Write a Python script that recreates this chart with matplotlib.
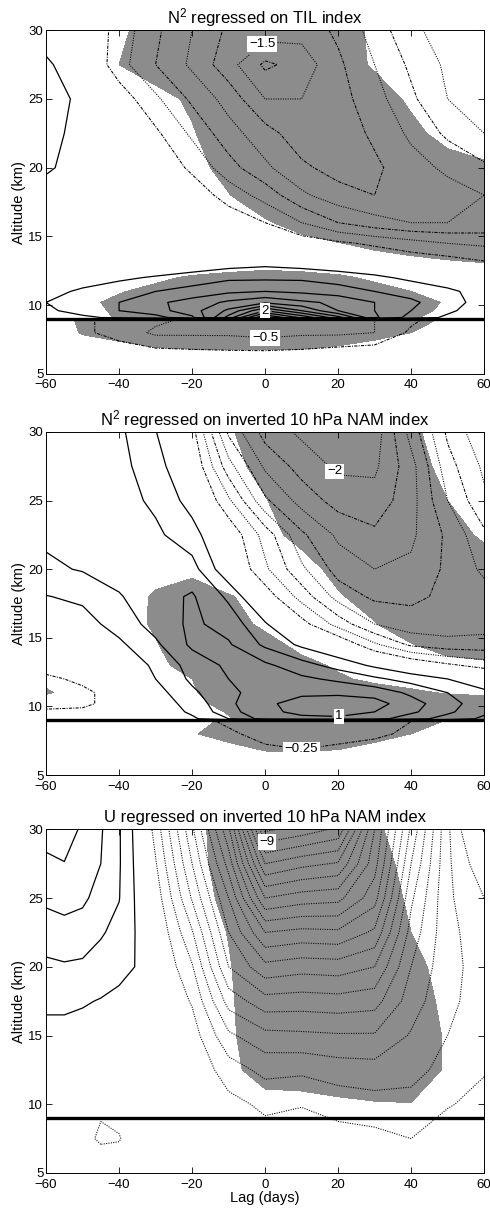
import matplotlib
matplotlib.use("Agg")
import matplotlib.pyplot as plt
import numpy as np

plt.rcParams['font.family'] = ['Liberation Sans', 'DejaVu Sans']
plt.rcParams['mathtext.default'] = 'regular'

# Lag (days) / altitude (km) grid of the two N^2 maps
LAGS = [-60, -50, -40, -30, -20, -10, 0, 10, 20, 30, 40, 50, 60]
ALTS = [5, 6.5, 8, 8.9, 9.1, 9.6, 10.2, 11, 12, 13, 14.5, 16, 18, 20, 22.5, 25, 27.5, 30]

# N^2 regressed on TIL index (one row per altitude, bottom to top)
N2_TIL = [
    [0, 0, -0.02, -0.03, -0.05, -0.05, -0.05, -0.05, -0.05, -0.03, -0.02, 0, 0],
    [0, -0.05, -0.1, -0.15, -0.18, -0.2, -0.2, -0.18, -0.12, -0.08, -0.05, 0, 0],
    [-0.05, -0.2, -0.35, -0.55, -0.55, -0.55, -0.6, -0.55, -0.55, -0.5, -0.2, -0.1, -0.05],
    [-0.05, -0.2, -0.35, -0.45, -0.55, -0.65, -0.7, -0.65, -0.6, -0.5, -0.3, -0.1, -0.05],
    [0.1, 0.2, 0.3, 0.4, 0.7, 1.6, 2.8, 2.2, 1.6, 0.8, 0.4, 0.2, 0.05],
    [0.2, 0.35, 0.5, 0.65, 0.9, 1.3, 2.0, 1.5, 1.0, 0.75, 0.5, 0.3, 0.1],
    [0.25, 0.4, 0.5, 0.7, 0.85, 1.05, 1.2, 1.05, 0.95, 0.75, 0.55, 0.35, 0.15],
    [0.15, 0.3, 0.4, 0.5, 0.6, 0.7, 0.75, 0.7, 0.62, 0.5, 0.4, 0.3, 0.15],
    [0.05, 0.1, 0.2, 0.28, 0.35, 0.45, 0.45, 0.45, 0.38, 0.3, 0.2, 0.1, 0.0],
    [0, 0, 0, 0.02, 0.1, 0.15, 0.2, 0.15, 0.1, 0.05, -0.05, -0.1, -0.2],
    [0, 0, 0, 0, 0, 0, 0, -0.1, -0.2, -0.3, -0.4, -0.5, -0.55],
    [0, 0, 0, 0, 0, -0.1, -0.25, -0.5, -0.75, -0.9, -1.0, -1.0, -0.95],
    [0.1, 0, 0, 0, -0.1, -0.35, -0.6, -0.95, -1.15, -1.25, -1.2, -1.1, -1.0],
    [0.3, 0.1, 0, -0.05, -0.3, -0.65, -0.95, -1.2, -1.35, -1.3, -1.1, -0.95, -0.8],
    [0.3, 0.2, 0, -0.2, -0.55, -0.9, -1.15, -1.4, -1.4, -1.2, -0.95, -0.7, -0.5],
    [0.35, 0.2, -0.1, -0.45, -0.8, -1.1, -1.5, -1.5, -1.35, -1.1, -0.8, -0.5, -0.35],
    [0.3, 0.05, -0.4, -0.75, -1.05, -1.4, -1.8, -1.65, -1.3, -1.0, -0.7, -0.45, -0.3],
    [0.1, 0.0, -0.35, -0.7, -1.0, -1.3, -1.35, -1.4, -1.2, -0.9, -0.55, -0.4, -0.25],
]
# significance of the TIL regression (shaded where > 1)
SIG_TIL = [
    [0, 0, 0, 0, 0, 0, 0, 0, 0, 0, 0, 0, 0],
    [0, 0.1, 0.3, 0.6, 0.75, 0.8, 0.8, 0.75, 0.55, 0.3, 0.1, 0, 0],
    [0.2, 1.1, 1.5, 2, 2, 2, 2, 2, 1.8, 1.4, 1.0, 0.6, 0.3],
    [0.3, 1.2, 1.6, 2, 2, 2, 2, 2, 2, 1.6, 1.2, 0.9, 0.6],
    [0, 0.5, 1.1, 1.5, 2, 2, 2, 2, 2, 1.5, 1.1, 0.7, 0.2],
    [0, 0.6, 1.2, 1.7, 2, 2, 2, 2, 2, 1.7, 1.3, 0.8, 0.2],
    [0, 0.7, 1.3, 1.8, 2, 2, 2, 2, 2, 1.8, 1.4, 0.9, 0.3],
    [0, 0.4, 0.9, 1.4, 1.8, 2, 2, 2, 1.8, 1.4, 1.0, 0.5, 0.1],
    [0, 0, 0.3, 0.7, 1.2, 1.6, 1.8, 1.6, 1.2, 0.8, 0.4, 0, 0],
    [0, 0, 0, 0, 0, 0, 0.3, 0.2, 0.3, 0.4, 0.6, 0.8, 0.95],
    [0, 0, 0, 0, 0, 0, 0.2, 0.6, 0.95, 1.3, 1.6, 1.8, 1.8],
    [0, 0, 0, 0, 0, 0.4, 0.85, 1.5, 2, 2, 2, 2, 2],
    [0, 0, 0, 0, 0.2, 0.95, 1.8, 2, 2, 2, 2, 2, 2],
    [0, 0, 0, 0, 0.6, 1.4, 2, 2, 2, 2, 2, 1.5, 1.2],
    [0, 0, 0, 0.3, 0.9, 1.8, 2, 2, 2, 2, 1.3, 0.6, 0.3],
    [0, 0, 0, 0.6, 1.2, 2, 2, 2, 2, 1.6, 0.8, 0.2, 0],
    [0, 0, 1.0, 1.6, 2, 2, 2, 2, 1.6, 0.85, 0.3, 0, 0],
    [0, 0, 0.8, 1.5, 2, 2, 2, 2, 1.5, 0.8, 0.3, 0, 0],
]

# N^2 regressed on inverted 10 hPa NAM index
N2_NAM = [
    [0, 0, 0, 0, 0, 0, 0, 0, 0, 0, 0, 0, 0],
    [0, 0, 0, 0, 0, -0.05, -0.15, -0.2, -0.15, -0.1, -0.05, 0, 0],
    [0, 0, -0.05, -0.05, -0.1, -0.2, -0.35, -0.4, -0.35, -0.3, -0.2, -0.05, 0],
    [0, -0.05, -0.05, -0.1, -0.15, -0.3, -0.4, -0.4, -0.35, -0.3, -0.25, -0.1, 0],
    [-0.1, -0.1, -0.05, 0.05, 0.2, 0.5, 0.85, 0.95, 0.95, 0.85, 0.6, 0.4, 0.2],
    [-0.2, -0.2, -0.1, 0.05, 0.3, 0.65, 0.95, 1.05, 1.1, 1.0, 0.8, 0.55, 0.3],
    [-0.35, -0.3, -0.15, 0.1, 0.35, 0.7, 0.95, 1.1, 1.15, 1.1, 0.85, 0.6, 0.35],
    [-0.3, -0.3, -0.15, 0.15, 0.45, 0.7, 0.85, 0.95, 0.95, 0.9, 0.7, 0.5, 0.3],
    [-0.3, -0.2, -0.05, 0.25, 0.55, 0.75, 0.85, 0.8, 0.7, 0.55, 0.4, 0.25, 0.1],
    [-0.15, -0.05, 0.05, 0.3, 0.6, 0.8, 0.8, 0.6, 0.4, 0.2, 0.0, -0.2, -0.35],
    [-0.05, 0.05, 0.2, 0.45, 0.8, 0.78, 0.45, 0.2, 0.0, -0.45, -0.8, -0.9, -0.9],
    [0.05, 0.15, 0.35, 0.6, 0.8, 0.65, 0.28, -0.15, -0.6, -1.0, -1.15, -1.15, -1.1],
    [0.24, 0.3, 0.48, 0.65, 0.78, 0.45, -0.1, -0.6, -1.1, -1.3, -1.3, -1.2, -1.1],
    [0.45, 0.52, 0.6, 0.7, 0.6, 0.05, -0.45, -0.95, -1.35, -1.5, -1.45, -1.2, -0.95],
    [0.55, 0.6, 0.62, 0.55, 0.35, -0.05, -0.6, -1.2, -1.55, -1.7, -1.55, -1.2, -0.8],
    [0.6, 0.7, 0.6, 0.45, 0.15, -0.45, -1.2, -1.6, -1.85, -1.9, -1.6, -1.0, -0.55],
    [0.65, 0.62, 0.58, 0.35, 0.0, -0.9, -1.55, -1.85, -2.05, -2.05, -1.6, -0.85, -0.45],
    [0.65, 0.62, 0.55, 0.26, -0.15, -1.3, -1.85, -2.05, -2.2, -2.15, -1.4, -0.7, -0.3],
]
SIG_NAM = [
    [0, 0, 0, 0, 0, 0, 0, 0, 0, 0, 0, 0, 0],
    [0, 0, 0, 0, 0, 0.3, 0.8, 0.85, 0.7, 0.3, 0, 0, 0],
    [0, 0, 0, 0, 0.9, 1.5, 2, 2, 2, 1.5, 1.0, 0.4, 0],
    [0, 0, 0, 0, 0.5, 1.3, 2, 2, 2, 2, 1.6, 0.9, 0.4],
    [0, 0, 0, 0, 0.2, 0.9, 2, 2, 2, 2, 2, 1.6, 1.2],
    [0, 0, 0, 0, 0.3, 1.1, 2, 2, 2, 2, 2, 1.8, 1.4],
    [0.5, 0.2, 0, 0, 0.5, 1.6, 2, 2, 2, 2, 2, 1.8, 1.5],
    [1.1, 0.6, 0, 0.1, 0.8, 2, 2, 2, 2, 1.6, 1.2, 0.9, 0.8],
    [0.8, 0.4, 0, 0.3, 1.0, 2, 2, 2, 1.2, 0.7, 0.5, 0.4, 0.3],
    [0, 0, 0.1, 0.6, 1.6, 2, 2, 1.4, 0.8, 0.5, 0.4, 0.6, 0.8],
    [0, 0, 0.2, 0.9, 2, 2, 1.5, 0.6, 0.4, 0.6, 0.95, 1.5, 1.6],
    [0, 0, 0.3, 1.2, 2, 1.6, 0.7, 0.4, 0.6, 0.95, 1.6, 2, 2],
    [0, 0, 0.2, 1.2, 2, 1.1, 0.5, 0.3, 0.9, 1.4, 2, 2, 2],
    [0, 0, 0, 0.4, 0.5, 0, 0, 0.6, 1.3, 2, 2, 2, 1.6],
    [0, 0, 0, 0, 0, 0.2, 0.7, 1.3, 2, 2, 2, 1.5, 0.8],
    [0, 0, 0, 0, 0, 0.4, 0.95, 1.6, 2, 2, 1.6, 1.0, 0.5],
    [0, 0, 0, 0, 0.2, 0.7, 1.3, 2, 2, 2, 1.4, 0.7, 0.3],
    [0, 0, 0, 0, 0.3, 0.9, 1.5, 2, 2, 2, 1.2, 0.5, 0.2],
]

# U regressed on inverted 10 hPa NAM index (coarser altitude grid)
U_LAGS = [-60, -55, -50, -45, -40, -35, -30, -20, -10, 0, 10, 20, 30, 40, 50, 60]
U_ALTS = [5, 7.5, 10, 12.5, 15, 17.5, 20, 22.5, 25, 27.5, 30]
# one list per lag, bottom to top
U_NAM_BY_LAG = [
    [0, 0.05, 0.1, 0.2, 0.35, 0.6, 0.9, 1.25, 1.6, 1.85, 2.3],
    [0, 0.05, 0.1, 0.2, 0.35, 0.6, 0.95, 1.3, 1.7, 1.98, 2.3],
    [0, -0.3, 0.0, 0.15, 0.3, 0.55, 0.92, 1.25, 1.6, 1.8, 1.9],
    [0, -0.6, -0.4, 0.1, 0.25, 0.47, 0.8, 1.05, 1.3, 1.5, 1.55],
    [0, -0.55, -0.2, 0.05, 0.2, 0.4, 0.62, 0.85, 1.02, 1.05, 1.05],
    [0, -0.05, -0.05, 0.05, 0.15, 0.3, 0.48, 0.45, 0.4, 0.35, 0.3],
    [0, 0, 0, 0, 0.05, 0.1, 0.1, 0.0, -0.2, -0.45, -0.7],
    [0, -0.05, -0.05, -0.1, -0.25, -0.55, -0.95, -1.45, -2.05, -2.5, -2.9],
    [0, -0.1, -0.35, -0.75, -1.4, -2.2, -3.0, -3.5, -4.0, -4.7, -5.4],
    [-0.1, -0.3, -0.6, -1.15, -1.85, -2.8, -3.85, -5.0, -6.5, -8.0, -9.6],
    [-0.15, -0.3, -0.52, -1.1, -1.9, -2.75, -3.7, -4.85, -6.25, -7.65, -9.3],
    [-0.15, -0.3, -0.7, -1.25, -1.95, -2.8, -3.75, -4.9, -6.15, -7.45, -8.9],
    [-0.15, -0.35, -0.8, -1.3, -1.95, -2.7, -3.5, -4.4, -5.2, -5.7, -6.0],
    [-0.2, -0.5, -0.8, -1.2, -1.45, -1.75, -2.0, -2.3, -2.6, -3.0, -3.4],
    [0, -0.15, -0.55, -0.8, -1.0, -1.1, -1.15, -1.15, -1.1, -1.1, -1.1],
    [0, -0.1, -0.3, -0.55, -0.7, -0.8, -0.8, -0.7, -0.5, -0.1, 0.55],
]
# significance of U regression, one row per altitude
SIG_U = [
    [0] * 16,
    [0] * 16,
    [0, 0, 0, 0, 0, 0, 0, 0, 0, 0.6, 0.5, 0.75, 0.9, 0.95, 0.3, 0],
    [0, 0, 0, 0, 0, 0, 0, 0, 0.7, 1.5, 1.8, 1.9, 2, 2, 0.8, 0],
    [0, 0, 0, 0, 0, 0, 0, 0, 0.75, 1.9, 2, 2, 2, 2, 0.8, 0],
    [0, 0, 0, 0, 0, 0, 0, 0, 0.8, 2, 2, 2, 2, 2, 0.5, 0],
    [0, 0, 0, 0, 0, 0, 0, 0.1, 0.9, 2, 2, 2, 2, 1.4, 0.5, 0],
    [0, 0, 0, 0, 0, 0, 0, 0.2, 1.05, 2, 2, 2, 2, 1.0, 0.3, 0],
    [0, 0, 0, 0, 0, 0, 0, 0.3, 1.4, 2, 2, 2, 1.7, 0.8, 0.1, 0],
    [0, 0, 0, 0, 0, 0, 0, 0.5, 1.6, 2, 2, 2, 1.5, 0.6, 0, 0],
    [0, 0, 0, 0, 0, 0, 0, 0.6, 1.6, 2, 2, 2, 1.2, 0.4, 0, 0],
]

N2_LEVELS = [v / 4 for v in range(-10, 13) if v != 0]
U_LEVELS = [v / 2 for v in range(-19, 6) if v != 0]

GRAY = '#8c8c8c'
DOT = (0, (1, 1.3))
DASHDOT = (0, (3, 1.2, 1, 1.2))


def fmt(v):
    return f'{v:g}'.replace('-', '\u2212')


def draw_panel(ax, lags, alts, field, sig, levels, labels, title, neg_styles):
    ax.contourf(lags, alts, sig, levels=[1, 100], colors=[GRAY], zorder=1)
    label_pos = dict(labels)
    for i, lev in enumerate(levels):
        if lev < 0:
            style = neg_styles[i % len(neg_styles)]
            lw = 0.75
        else:
            style = 'solid'
            lw = 0.9
        cs = ax.contour(lags, alts, field, levels=[lev], colors='k',
                        linewidths=lw, linestyles=[style], zorder=2)
        if lev in label_pos:
            texts = cs.clabel([lev], manual=[label_pos[lev]], inline=True,
                              fmt=fmt, fontsize=9.5, inline_spacing=3)
            for t in texts:
                t.set_rotation(0)
                t.set_bbox(dict(facecolor='white', edgecolor='none', pad=1.2))
                t.set_zorder(5)
    ax.axhline(9, color='k', lw=2.4, zorder=3)
    ax.set_xlim(-60, 60)
    ax.set_ylim(5, 30)
    ax.set_xticks(range(-60, 61, 20))
    ax.set_yticks(range(5, 31, 5))
    ax.tick_params(direction='in', top=True, right=True, length=4,
                   width=0.6, labelsize=9.5)
    ax.tick_params(axis='x', pad=4)
    ax.tick_params(axis='y', pad=2)
    for sp in ax.spines.values():
        sp.set_linewidth(0.7)
    ax.set_ylabel('Altitude (km)', fontsize=10.5, labelpad=2)
    ax.set_title(title, fontsize=12, pad=5)


fig = plt.figure(figsize=(4.9, 12.1), dpi=100)
ax1 = fig.add_axes([0.094, 0.691, 0.894, 0.284])
ax2 = fig.add_axes([0.094, 0.3595, 0.894, 0.2835])
ax3 = fig.add_axes([0.094, 0.0306, 0.894, 0.284])

draw_panel(ax1, LAGS, ALTS, N2_TIL, SIG_TIL, N2_LEVELS,
           [(-1.5, (0.5, 28.6)), (2.0, (0, 9.55)), (-0.5, (0, 7.6))],
           r'$N^2$ regressed on TIL index', [DOT, DASHDOT])
draw_panel(ax2, LAGS, ALTS, N2_NAM, SIG_NAM, N2_LEVELS,
           [(-2.0, (20, 27.4)), (1.0, (20, 9.8)), (-0.25, (10, 6.8))],
           r'$N^2$ regressed on inverted 10 hPa NAM index', [DOT, DASHDOT])
draw_panel(ax3, U_LAGS, U_ALTS, np.array(U_NAM_BY_LAG).T, SIG_U, U_LEVELS,
           [(-9.0, (0.5, 29.2))],
           'U regressed on inverted 10 hPa NAM index', [DOT])
ax3.set_xlabel('Lag (days)', fontsize=10.5, labelpad=0)

fig.savefig('out.png', dpi=100)
